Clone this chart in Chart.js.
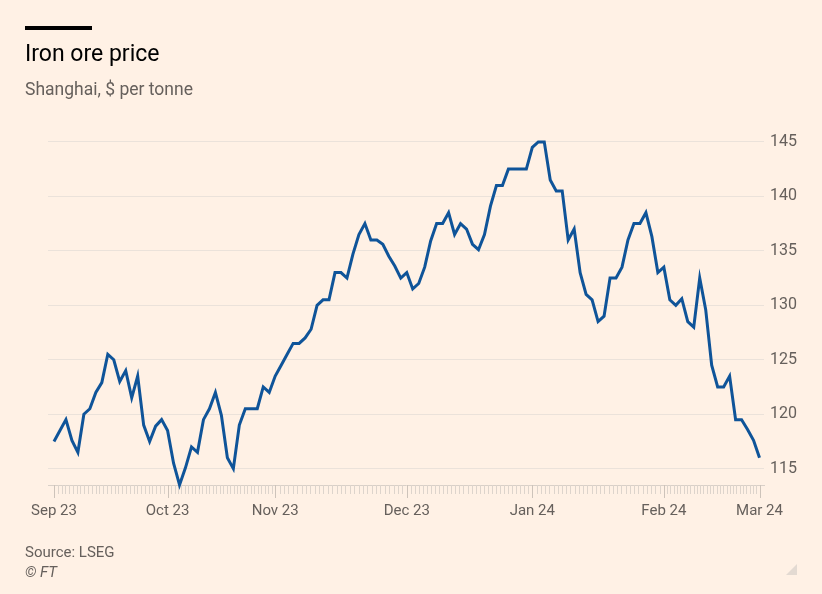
<!DOCTYPE html>
<html>
<head>
<meta charset="utf-8">
<script src="https://cdn.jsdelivr.net/npm/chart.js@4.4.1/dist/chart.umd.min.js"></script>
<style>
  body { margin: 0; background: #fff1e5; }
  #wrap { position: relative; width: 822px; height: 594px; overflow: hidden; font-family: Roboto, sans-serif; }
  #bar { position: absolute; left: 25px; top: 26px; width: 67px; height: 4px; background: #000; }
  #title { position: absolute; left: 25px; top: 42px; font-size: 23px; line-height: 23px; color: #000; }
  #subtitle { position: absolute; left: 25px; top: 81px; font-size: 17.5px; line-height: 17.5px; color: #66605c; }
  #source { position: absolute; left: 25px; top: 545px; font-size: 15px; line-height: 15px; color: #66605c; }
  #copy { position: absolute; left: 25px; top: 565px; font-size: 15px; line-height: 15px; color: #66605c; font-style: italic; }
  #corner { position: absolute; left: 786px; top: 564px; width: 0; height: 0;
            border-left: 11px solid transparent; border-bottom: 11px solid #e3dad2; }
  #chartBox { position: absolute; left: 0; top: 0; width: 822px; height: 594px; }
</style>
</head>
<body>
<div id="wrap">
  <div id="chartBox"><canvas id="chart"></canvas></div>
  <div id="bar"></div>
  <div id="title">Iron ore price</div>
  <div id="subtitle">Shanghai, $ per tonne</div>
  <div id="source">Source: LSEG</div>
  <div id="copy">© FT</div>
  <div id="corner"></div>
</div>
<script>
// month ticks: label, index of first trading day, calendar days in the month
const monthLabels = ['Sep 23', 'Oct 23', 'Nov 23', 'Dec 23', 'Jan 24', 'Feb 24', 'Mar 24'];
const monthStart = [0, 19, 37, 59, 80, 102, 118];
const monthDays = [30, 31, 30, 31, 31, 29];

// Shanghai iron ore, $ per tonne, one value per trading day
const prices = [
  117.5, 118.5, 119.5, 117.6, 116.5, 120.0, 120.5, 122.0, 122.9, 125.5,
  125.0, 123.0, 124.0, 121.5, 123.5, 119.0, 117.5, 118.9, 119.5, 118.5,
  115.5, 113.5, 115.1, 117.0, 116.5, 119.5, 120.5, 122.0, 119.9, 116.0,
  115.0, 119.0, 120.5, 120.5, 120.5, 122.5, 122.0, 123.5, 124.5, 125.5,
  126.5, 126.5, 127.0, 127.8, 130.0, 130.5, 130.5, 133.0, 133.0, 132.5,
  134.7, 136.5, 137.5, 136.0, 136.0, 135.6, 134.5, 133.6, 132.5, 133.0,
  131.5, 132.0, 133.5, 135.9, 137.5, 137.5, 138.5, 136.5, 137.5, 137.0,
  135.6, 135.1, 136.5, 139.1, 141.0, 141.0, 142.5, 142.5, 142.5, 142.5,
  144.5, 145.0, 145.0, 141.5, 140.5, 140.5, 136.0, 137.0, 133.0, 131.0,
  130.5, 128.5, 129.0, 132.5, 132.5, 133.5, 136.0, 137.5, 137.5, 138.5,
  136.3, 133.0, 133.5, 130.5, 130.0, 130.6, 128.5, 128.0, 132.5, 129.6,
  124.5, 122.5, 122.5, 123.5, 119.5, 119.5, 118.6, 117.6, 116.0
];

const yTicks = [115, 120, 125, 130, 135, 140, 145];

// small day ticks under the x axis, longer ones at month starts
const dayTicks = {
  id: 'dayTicks',
  beforeDatasetsDraw(chart) {
    const ctx = chart.ctx;
    const x = chart.scales.x;
    const y0 = chart.chartArea.bottom;
    ctx.save();
    ctx.lineWidth = 1;
    const tick = (v, major) => {
      const px = Math.round(x.getPixelForValue(v)) + 0.5;
      ctx.strokeStyle = major ? '#cdc3ba' : '#ddd4cc';
      ctx.beginPath();
      ctx.moveTo(px, y0);
      ctx.lineTo(px, y0 + (major ? 13 : 9));
      ctx.stroke();
    };
    for (let m = 0; m < monthDays.length; m++) {
      const a = monthStart[m], b = monthStart[m + 1];
      for (let d = 0; d < monthDays[m]; d++) {
        tick(a + (b - a) * d / monthDays[m], d === 0);
      }
    }
    tick(monthStart[monthStart.length - 1], true);
    ctx.restore();
  }
};

new Chart(document.getElementById('chart'), {
  type: 'line',
  data: {
    datasets: [{
      data: prices.map((v, i) => ({ x: i, y: v })),
      borderColor: '#0f5499',
      borderWidth: 3,
      pointRadius: 0,
      tension: 0,
      clip: false
    }]
  },
  options: {
    responsive: true,
    maintainAspectRatio: false,
    animation: false,
    layout: { padding: { top: 131, left: 48, right: 0, bottom: 69 } },
    plugins: { legend: { display: false }, tooltip: { enabled: false } },
    scales: {
      x: {
        type: 'linear',
        min: -1,
        max: 118.75,
        afterBuildTicks: (scale) => { scale.ticks = monthStart.map(v => ({ value: v })); },
        afterFit: (scale) => { scale.height = 40; },
        grid: { display: false, drawTicks: false },
        border: { display: true, color: '#d9d0c8', width: 1 },
        ticks: {
          autoSkip: false,
          maxRotation: 0,
          padding: 17,
          color: '#66605c',
          font: { family: 'Roboto', size: 15 },
          callback: (v) => monthLabels[monthStart.indexOf(v)]
        }
      },
      y: {
        position: 'right',
        min: 113.5,
        max: 146,
        afterBuildTicks: (scale) => { scale.ticks = yTicks.map(v => ({ value: v })); },
        afterFit: (scale) => { scale.width = 58; },
        grid: { color: '#ebe2da', drawTicks: false },
        border: { display: false },
        ticks: {
          padding: 6,
          color: '#66605c',
          font: { family: 'Roboto', size: 16 }
        }
      }
    }
  },
  plugins: [dayTicks]
});
</script>
</body>
</html>
